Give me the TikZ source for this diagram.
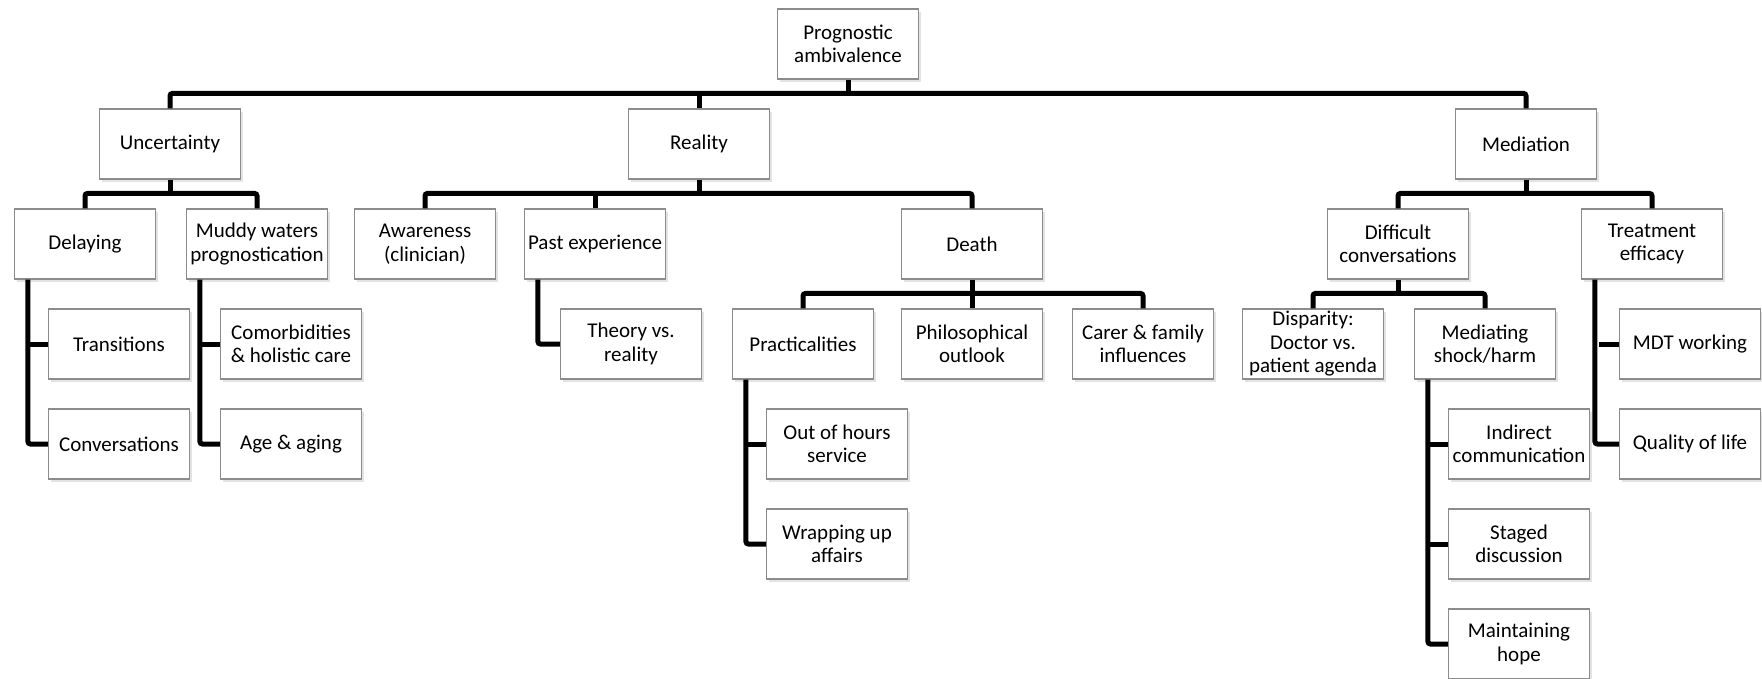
\documentclass[tikz,border=0pt]{standalone}
\usepackage{fontspec}
\setmainfont{Carlito}
\usetikzlibrary{shadows}
\begin{document}
\begin{tikzpicture}[x=1pt,y=-1pt,
  box/.style={draw=black!45, line width=1.2pt, fill=white, minimum width=141pt, minimum height=70pt,
    inner sep=0pt, align=center, font=\fontsize{21}{23.5}\selectfont,
    drop shadow={shadow xshift=2pt, shadow yshift=-3pt, fill=black!22}},
  conn/.style={line width=5pt, rounded corners=2.5pt, line cap=butt}]
\useasboundingbox (0,0) rectangle (1762,679);
% row 0
\node[box] (prog) at (848,44) {Prognostic\\ambivalence};
% row 1
\node[box] (unc) at (170,144) {Uncertainty};
\node[box] (real) at (699,144) {Reality};
\node[box] (med) at (1526,144) {Mediation};
% row 2
\node[box] (del) at (85,244) {Delaying};
\node[box] (mud) at (257,244) {Muddy waters\\prognostication};
\node[box] (aw) at (425,244) {Awareness\\(clinician)};
\node[box] (past) at (595,244) {Past experience};
\node[box] (death) at (972,244) {Death};
\node[box] (diff) at (1398,244) {Difficult\\conversations};
\node[box] (treat) at (1652,244) {Treatment\\efficacy};
% row 3
\node[box] (trans) at (119,344) {Transitions};
\node[box] (como) at (291,344) {Comorbidities\\\& holistic care};
\node[box] (theory) at (631,344) {Theory vs.\\reality};
\node[box] (prac) at (803,344) {Practicalities};
\node[box] (phil) at (972,344) {Philosophical\\outlook};
\node[box] (carer) at (1143,344) {Carer \& family\\influences};
\node[box] (disp) at (1313,344) {Disparity:\\Doctor vs.\\patient agenda};
\node[box] (medsh) at (1485,344) {Mediating\\shock/harm};
\node[box] (mdt) at (1690,344) {MDT working};
% row 4
\node[box] (conv) at (119,444) {Conversations};
\node[box] (age) at (291,444) {Age \& aging};
\node[box] (ooh) at (837,444) {Out of hours\\service};
\node[box] (indir) at (1519,444) {Indirect\\communication};
\node[box] (qol) at (1690,444) {Quality of life};
% row 5
\node[box] (wrap) at (837,544) {Wrapping up\\affairs};
\node[box] (staged) at (1519,544) {Staged\\discussion};
% row 6
\node[box] (hope) at (1519,644) {Maintaining\\hope};
% connectors: top level
\draw[conn] (unc.north) -- ++(0,-15) -| (med.north);
\draw[conn] (prog.south) -- ++(0,15);
\draw[conn] (real.north) -- ++(0,-15);
% uncertainty
\draw[conn] (del.north) -- ++(0,-15) -| (mud.north);
\draw[conn] (unc.south) -- ++(0,15);
% reality
\draw[conn] (aw.north) -- ++(0,-15) -| (death.north);
\draw[conn] (real.south) -- ++(0,15);
\draw[conn] (past.north) -- ++(0,-15);
% death
\draw[conn] (prac.north) -- ++(0,-15) -| (carer.north);
\draw[conn] (death.south) -- (phil.north);
% mediation
\draw[conn] (diff.north) -- ++(0,-15) -| (treat.north);
\draw[conn] (med.south) -- ++(0,15);
% difficult conversations
\draw[conn] (disp.north) -- ++(0,-15) -| (medsh.north);
\draw[conn] (diff.south) -- ++(0,15);
% side brackets
\draw[conn] ([xshift=14pt]del.south west) |- (conv.west);
\draw[conn] (trans.west) -- ++(-20,0);
\draw[conn] ([xshift=14pt]mud.south west) |- (age.west);
\draw[conn] (como.west) -- ++(-20,0);
\draw[conn] ([xshift=14pt]past.south west) |- (theory.west);
\draw[conn] ([xshift=14pt]prac.south west) |- (wrap.west);
\draw[conn] (ooh.west) -- ++(-20,0);
\draw[conn] ([xshift=14pt]medsh.south west) |- (hope.west);
\draw[conn] (indir.west) -- ++(-20,0);
\draw[conn] (staged.west) -- ++(-20,0);
\draw[conn] ([xshift=14pt]treat.south west) |- (qol.west);
\draw[conn] (mdt.west) -- ++(-20,0);
\end{tikzpicture}
\end{document}
